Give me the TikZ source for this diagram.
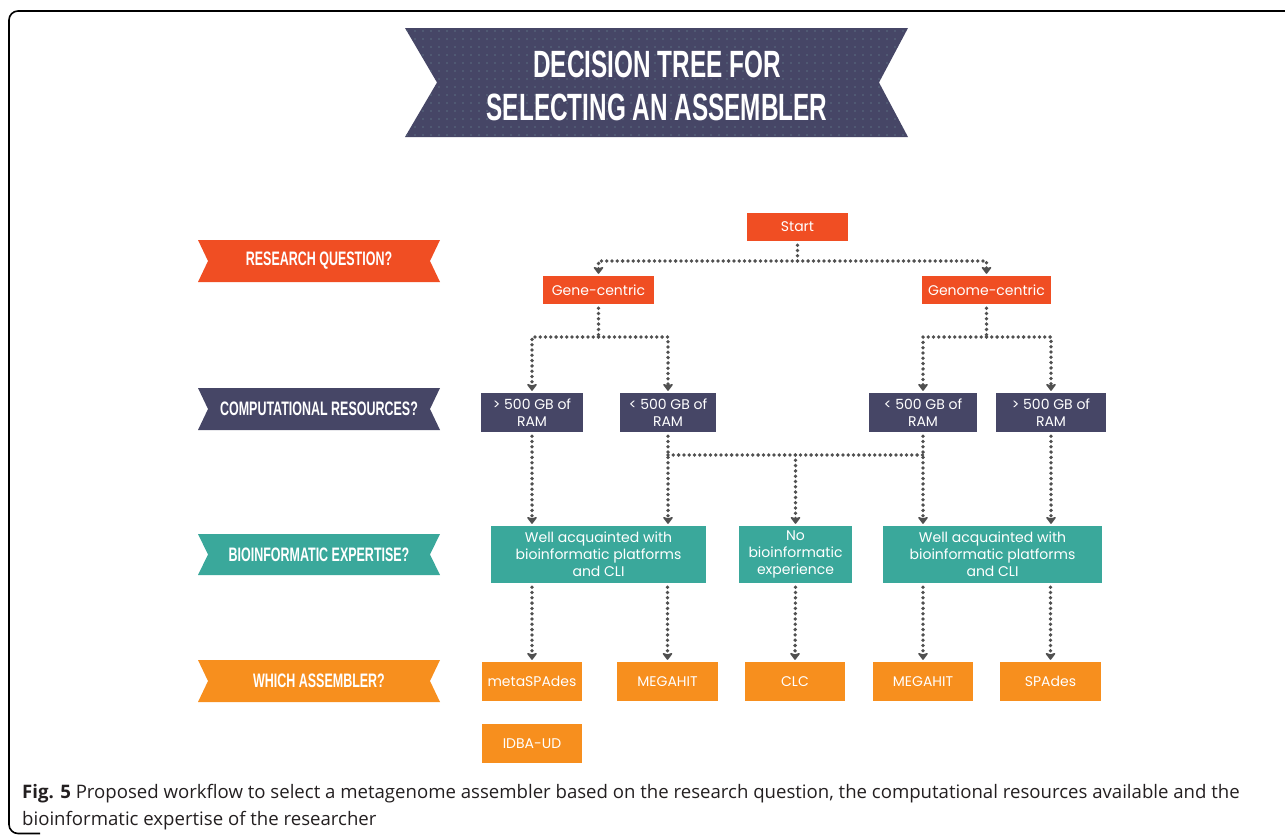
\documentclass[tikz,border=0pt]{standalone}
\usepackage{fontspec}
\usepackage{graphicx}
\setmainfont{Open Sans}
\newfontfamily\boxfont{Poppins}
\newfontfamily\bannerfont{Liberation Sans}
\usetikzlibrary{arrows.meta,positioning}

\definecolor{treered}{RGB}{240,78,35}
\definecolor{treenavy}{RGB}{70,70,102}
\definecolor{treeteal}{RGB}{58,168,155}
\definecolor{treeorange}{RGB}{247,143,30}
\definecolor{treelink}{RGB}{80,80,80}
\definecolor{titledot}{RGB}{92,110,130}
\definecolor{captiontext}{RGB}{35,31,32}

\def\ribbonleft{198}
\def\ribbonright{440}
\def\ribbonnotch{10}

\newcommand{\bebas}[3]{{\bannerfont\bfseries\fontsize{#1}{#1}\selectfont\scalebox{#2}[1]{#3}}}

\newcommand{\drawribbon}[5]{%
	\fill[#2] (\ribbonleft,#3) -- (\ribbonright,#3) -- ({\ribbonright-\ribbonnotch},{(#3+#4)/2})
		-- (\ribbonright,#4) -- (\ribbonleft,#4) -- ({\ribbonleft+\ribbonnotch},{(#3+#4)/2}) -- cycle;
	\node[ribbontext] (#1) at ({(\ribbonleft+\ribbonright)/2},{(#3+#4)/2}) {\bebas{19.5}{0.64}{#5}};
}

\tikzset{
	box/.style={fill=#1, text=white, font=\boxfont\fontsize{14}{17}\selectfont,
		align=center, inner sep=0pt},
	ribbontext/.style={text=white, inner sep=0pt},
	link/.style={draw=treelink, line width=3.8pt, line cap=round, dash pattern=on 0pt off 5.3pt},
	arr/.style={link, -{Stealth[length=8pt,width=12pt,inset=2pt,round]}},
}

\begin{document}
\begin{tikzpicture}[x=1pt,y=-1pt]

	\useasboundingbox (0,0) rectangle (1285,835);

	\draw[line width=1.6pt, rounded corners=9pt] (1295,11) -- (9,11) -- (9,833.5) -- (40,833.5);

	% title banner
	\fill[treenavy] (405,28) -- (908,28) -- (879,82.5) -- (908,137) -- (405,137) -- (437,82.5) -- cycle;
	\begin{scope}
		\clip (405,28) -- (908,28) -- (879,82.5) -- (908,137) -- (405,137) -- (437,82.5) -- cycle;
		\foreach \i in {0,...,63}
			\foreach \j in {0,...,13}
				\fill[titledot] ({407+8*\i},{31+8*\j}) circle (0.9);
	\end{scope}
	\node[ribbontext] (title) at (657,64.5) {\bebas{38}{0.64}{DECISION TREE FOR}};
	\node[ribbontext] (subtitle) at (657,107.5) {\bebas{38}{0.64}{SELECTING AN ASSEMBLER}};

	\drawribbon{question}{treered}{240}{282}{RESEARCH QUESTION?}
	\drawribbon{resources}{treenavy}{388}{430}{COMPUTATIONAL RESOURCES?}
	\drawribbon{expertise}{treeteal}{534}{575}{BIOINFORMATIC EXPERTISE?}
	\drawribbon{assembler}{treeorange}{660}{702}{WHICH ASSEMBLER?}

	% decision boxes
	\node[box=treered, minimum width=101, minimum height=28] (start) at (797.5,227) {Start};
	\node[box=treered, minimum width=111, minimum height=28] (gene) at (598.5,290) {Gene-centric};
	\node[box=treered, minimum width=129, minimum height=28] (genome) at (986.5,290) {Genome-centric};

	\node[box=treenavy, minimum width=102, minimum height=39] (ramA) at (532,412.5) {> 500 GB of\\RAM};
	\node[box=treenavy, minimum width=96, minimum height=39] (ramB) at (668,412.5) {< 500 GB of\\RAM};
	\node[box=treenavy, minimum width=108, minimum height=39] (ramC) at (923,412.5) {< 500 GB of\\RAM};
	\node[box=treenavy, minimum width=110, minimum height=39] (ramD) at (1051,412.5) {> 500 GB of\\RAM};

	\node[box=treeteal, minimum width=215, minimum height=57] (wellA) at (598.5,554.5)
		{Well acquainted with\\bioinformatic platforms\\and CLI};
	\node[box=treeteal, minimum width=113, minimum height=57] (none) at (795.5,554.5)
		{No\\bioinformatic\\experience};
	\node[box=treeteal, minimum width=219, minimum height=57] (wellB) at (992.5,554.5)
		{Well acquainted with\\bioinformatic platforms\\and CLI};

	\node[box=treeorange, minimum width=100, minimum height=39] (metaspades) at (532,681.5) {metaSPAdes};
	\node[box=treeorange, minimum width=101, minimum height=39] (megahitA) at (667.5,681.5) {MEGAHIT};
	\node[box=treeorange, minimum width=100, minimum height=39] (clc) at (795,681.5) {CLC};
	\node[box=treeorange, minimum width=100, minimum height=39] (megahitB) at (923,681.5) {MEGAHIT};
	\node[box=treeorange, minimum width=101, minimum height=39] (spades) at (1050.5,681.5) {SPAdes};
	\node[box=treeorange, minimum width=100, minimum height=39] (idba) at (532,743.5) {IDBA-UD};

	% dotted connectors
	\coordinate (startsplit) at (797.5,261);
	\coordinate (genesplit) at (598.5,337);
	\coordinate (genomesplit) at (986.5,337);
	\coordinate (lowsplit) at (795.5,455);

	\draw[link] ([yshift=-4pt]start.south) -- (startsplit);
	\draw[arr] (startsplit) -| ([yshift=2pt]gene.north);
	\draw[arr] (startsplit) -| ([yshift=2pt]genome.north);

	\draw[link] ([yshift=-4pt]gene.south) -- (genesplit);
	\draw[arr] (genesplit) -| ([yshift=2pt]ramA.north);
	\draw[arr] (genesplit) -| ([yshift=2pt]ramB.north);
	\draw[link] ([yshift=-4pt]genome.south) -- (genomesplit);
	\draw[arr] (genomesplit) -| ([yshift=2pt]ramC.north);
	\draw[arr] (genomesplit) -| ([yshift=2pt]ramD.north);

	\draw[arr] ([yshift=-4pt]ramA.south) -- ([yshift=2pt]ramA.south |- wellA.north);
	\draw[arr] ([yshift=-4pt]ramB.south) -- ([yshift=2pt]ramB.south |- wellA.north);
	\draw[arr] ([yshift=-4pt]ramC.south) -- ([yshift=2pt]ramC.south |- wellB.north);
	\draw[arr] ([yshift=-4pt]ramD.south) -- ([yshift=2pt]ramD.south |- wellB.north);
	\draw[link] (ramB.south |- lowsplit) -- (ramC.south |- lowsplit);
	\draw[arr] (lowsplit) -- ([yshift=2pt]none.north);

	\draw[arr] ([yshift=-4pt]metaspades.north |- wellA.south) -- ([yshift=2pt]metaspades.north);
	\draw[arr] ([yshift=-4pt]megahitA.north |- wellA.south) -- ([yshift=2pt]megahitA.north);
	\draw[arr] ([yshift=-4pt]none.south) -- ([yshift=2pt]clc.north);
	\draw[arr] ([yshift=-4pt]megahitB.north |- wellB.south) -- ([yshift=2pt]megahitB.north);
	\draw[arr] ([yshift=-4pt]spades.north |- wellB.south) -- ([yshift=2pt]spades.north);

	% caption
	\node[anchor=base west, inner sep=0pt, text=captiontext, font=\fontsize{18.6}{28}\selectfont] (caption) at (22,798)
		{\textbf{Fig. 5} Proposed workflow to select a metagenome assembler based on the research question, the computational resources available and the};
	\node[anchor=base west, inner sep=0pt, text=captiontext, font=\fontsize{18.6}{28}\selectfont] (captionend) at (22,825)
		{bioinformatic expertise of the researcher};

\end{tikzpicture}
\end{document}
